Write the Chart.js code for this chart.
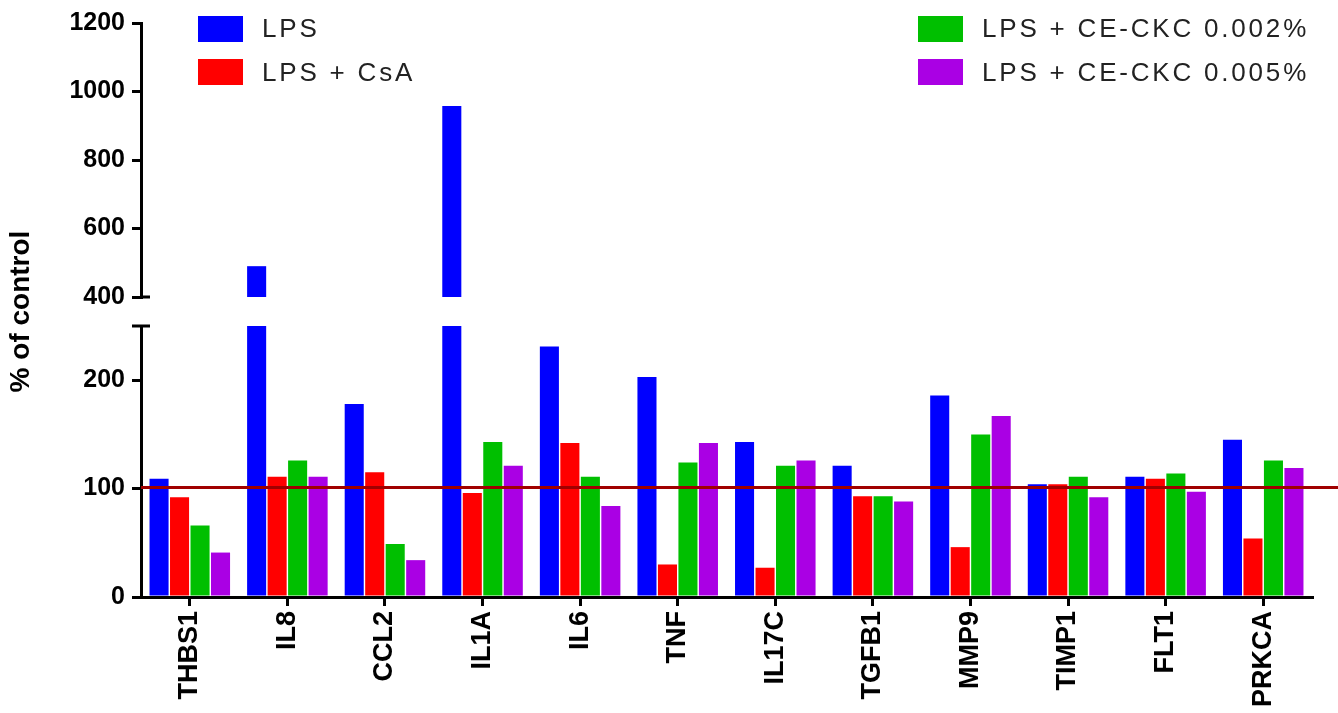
<!DOCTYPE html>
<html>
<head>
<meta charset="utf-8">
<title>% of control</title>
<script src="https://cdn.jsdelivr.net/npm/chart.js@4.4.1/dist/chart.umd.min.js"></script>
<style>
  body { margin: 0; background: #fff; }
  #wrap { position: relative; width: 1338px; height: 713px; }
  .legend { position: absolute; font-family: "Liberation Sans", Arial, sans-serif; font-size: 26px; letter-spacing: 2.8px; color: #222; }
  .legend .item { display: flex; align-items: center; height: 43.5px; white-space: nowrap; }
  .legend .box { width: 45px; height: 26px; margin-right: 19px; flex: none; }
</style>
</head>
<body>
<div id="wrap">
  <canvas id="chart" width="1338" height="713"></canvas>
  <div class="legend" id="legendLeft" style="left:198px; top:7px;"></div>
  <div class="legend" id="legendRight" style="left:918px; top:7px;"></div>
</div>
<script>
// ===============================
// Data
// ===============================
const genes = ["THBS1", "IL8", "CCL2", "IL1A", "IL6", "TNF", "IL17C", "TGFB1", "MMP9", "TIMP1", "FLT1", "PRKCA"];

const lps      = [109, 490, 178, 958, 231, 203, 143, 121, 186, 104, 111, 145];
const lpsCsa   = [ 92, 111, 115,  96, 142,  30,  27,  93,  46, 104, 109,  54];
const ceCkc002 = [ 66, 126,  49, 143, 111, 124, 121,  93, 150, 111, 114, 126];
const ceCkc005 = [ 41, 111,  34, 121,  84, 142, 126,  88, 167,  92,  97, 119];

const seriesNames = ["LPS", "LPS + CsA", "LPS + CE-CKC 0.002%", "LPS + CE-CKC 0.005%"];
const seriesColors = ["#0000ff", "#ff0000", "#00bf00", "#aa00e4"];

// broken y axis: lower part and upper part
const lowerRange = [0, 250];
const upperRange = [400, 1200];
const lowerTicks = [0, 100, 200];
const upperTicks = [400, 600, 800, 1000, 1200];
const refLine = 101;

// ===============================
// Datasets
// ===============================
const lpsLower = lps.map(v => Math.min(v, lowerRange[1]));
const lpsUpper = lps.map(v => v > upperRange[0] ? [upperRange[0], v] : null);

const datasets = [
  { label: seriesNames[0], data: lpsLower, backgroundColor: seriesColors[0], yAxisID: "y", stack: "lps" },
  { label: seriesNames[1], data: lpsCsa, backgroundColor: seriesColors[1], yAxisID: "y", stack: "csa" },
  { label: seriesNames[2], data: ceCkc002, backgroundColor: seriesColors[2], yAxisID: "y", stack: "ce2" },
  { label: seriesNames[3], data: ceCkc005, backgroundColor: seriesColors[3], yAxisID: "y", stack: "ce5" },
  { label: seriesNames[0], data: lpsUpper, backgroundColor: seriesColors[0], yAxisID: "yTop", stack: "lps" }
];

// ===============================
// Legend (two columns, drawn as html)
// ===============================
function fillLegend(id, idx) {
  const el = document.getElementById(id);
  idx.forEach(i => {
    el.innerHTML += `<div class="item"><span class="box" style="background:${seriesColors[i]}"></span>${seriesNames[i]}</div>`;
  });
}
fillLegend("legendLeft", [0, 1]);
fillLegend("legendRight", [2, 3]);

// ===============================
// Axis breaks + 100% line
// ===============================
const breakMarks = {
  id: "breakMarks",
  afterDatasetsDraw(chart) {
    const ctx = chart.ctx;
    const lo = chart.scales.y;
    const y = lo.getPixelForValue(refLine);
    ctx.save();
    ctx.strokeStyle = "#a00000";
    ctx.lineWidth = 3;
    ctx.beginPath();
    ctx.moveTo(chart.chartArea.left, y);
    ctx.lineTo(chart.width, y);
    ctx.stroke();
    ctx.restore();
  },
  afterDraw(chart) {
    const ctx = chart.ctx;
    const lo = chart.scales.y, hi = chart.scales.yTop;
    const x = chart.chartArea.left;
    ctx.save();
    ctx.strokeStyle = "#000";
    ctx.lineWidth = 3;
    ctx.beginPath();
    ctx.moveTo(x - 9, lo.top);
    ctx.lineTo(x + 9, lo.top);
    ctx.moveTo(x, hi.bottom);
    ctx.lineTo(x + 9, hi.bottom);
    ctx.stroke();
    ctx.restore();
  }
};

// ===============================
// Chart
// ===============================
const tickFont = { family: "'Liberation Sans', Arial, sans-serif", size: 25, weight: "bold" };
const xFont = { family: "'Liberation Sans', Arial, sans-serif", size: 27, weight: "bold" };
const yGrid = { display: true, drawOnChartArea: false, drawTicks: true, tickLength: 9, color: "#000", lineWidth: 3 };
const yBorder = { display: true, color: "#000", width: 3 };
const plainNumber = v => String(v);

new Chart(document.getElementById("chart"), {
  type: "bar",
  data: { labels: genes, datasets },
  plugins: [breakMarks],
  options: {
    responsive: false,
    animation: false,
    devicePixelRatio: 1,
    layout: { padding: { top: 23, right: 26, left: 0, bottom: 0 } },
    categoryPercentage: 0.84,
    barPercentage: 0.93,
    plugins: { legend: { display: false }, tooltip: { enabled: false } },
    scales: {
      x: {
        type: "category",
        grid: { display: true, offset: false, drawOnChartArea: false, drawTicks: true, tickLength: 9, color: "#000", lineWidth: 3 },
        border: yBorder,
        ticks: { color: "#000", font: xFont, minRotation: 90, maxRotation: 90, padding: 5, autoSkip: false },
        afterFit: s => { s.height = 116; }
      },
      y: {
        type: "linear",
        position: "left",
        stack: "left",
        stackWeight: 271,
        weight: 0,
        stacked: false,
        min: lowerRange[0],
        max: lowerRange[1],
        afterBuildTicks: s => { s.ticks = lowerTicks.map(v => ({ value: v })); },
        grid: yGrid,
        border: yBorder,
        ticks: { color: "#000", font: tickFont, padding: 7, callback: plainNumber },
        afterFit: s => { s.width = 141; }
      },
      yGap: {
        type: "linear",
        position: "left",
        stack: "left",
        stackWeight: 29,
        weight: 1,
        display: true,
        grid: { display: false },
        border: { display: false },
        ticks: { display: false },
        title: { display: true, text: "% of control", color: "#000", padding: 4,
                 font: { family: "'Liberation Sans', Arial, sans-serif", size: 28, weight: "bold" } },
        afterFit: s => { s.width = 141; }
      },
      yTop: {
        type: "linear",
        position: "left",
        stack: "left",
        stackWeight: 274,
        weight: 2,
        stacked: false,
        min: upperRange[0],
        max: upperRange[1],
        afterBuildTicks: s => { s.ticks = upperTicks.map(v => ({ value: v })); },
        grid: yGrid,
        border: yBorder,
        ticks: { color: "#000", font: tickFont, padding: 7, callback: plainNumber },
        afterFit: s => { s.width = 141; }
      }
    }
  }
});
</script>
</body>
</html>
